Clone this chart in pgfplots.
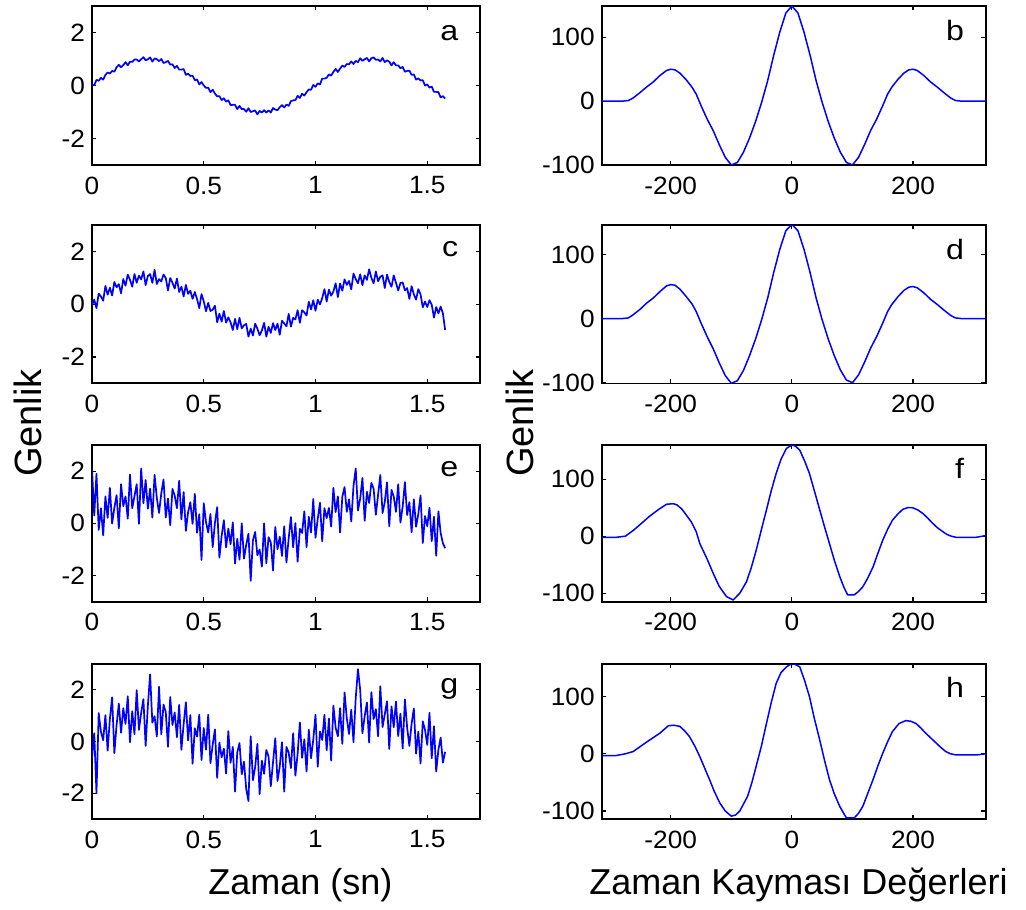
\documentclass[border=0pt]{standalone}
\usepackage{pgfplots}
\pgfplotsset{compat=1.18}
\usepackage{pgfplotstable}
\usepackage{fontspec}
\usepackage{graphicx}
\setmainfont{Liberation Sans}

\pgfplotstableread{
t a c e g
0.00 0.02 -0.04 2.10 -0.65
0.01 0.01 0.17 0.30 0.32
0.02 0.21 -0.15 1.90 -2.00
0.03 0.18 0.40 -0.25 1.10
0.04 0.29 0.29 0.58 0.38
0.05 0.22 0.13 -0.46 0.05
0.06 0.40 0.69 1.03 1.02
0.07 0.49 0.36 0.21 -0.35
0.08 0.45 0.62 1.36 0.87
0.09 0.55 0.33 -0.01 1.71
0.10 0.52 0.84 0.59 -0.45
0.11 0.69 0.64 1.08 0.64
0.12 0.78 0.76 -0.19 1.47
0.13 0.69 0.41 1.50 0.34
0.14 0.77 0.95 0.66 1.29
0.15 0.88 0.70 1.03 0.68
0.16 0.76 1.12 0.18 1.75
0.17 0.90 0.92 1.87 -0.03
0.18 0.89 0.66 0.58 1.17
0.19 0.98 1.14 1.04 0.28
0.20 0.98 0.81 1.50 1.99
0.21 0.91 1.08 -0.02 0.45
0.22 0.99 0.94 2.10 1.11
0.23 1.07 1.24 0.77 1.64
0.24 0.95 0.72 1.66 -0.17
0.25 0.99 1.07 0.56 1.39
0.26 1.06 1.14 1.33 2.60
0.27 0.90 0.81 0.22 0.73
0.28 1.02 1.30 1.86 0.98
0.29 0.99 0.76 0.97 0.19
0.30 0.92 0.95 0.40 2.12
0.31 1.00 0.86 1.15 0.28
0.32 0.85 1.12 1.68 1.43
0.33 0.88 0.99 0.22 1.14
0.34 0.93 0.52 0.95 -0.20
0.35 0.79 0.99 -0.07 1.72
0.36 0.80 0.81 1.32 0.64
0.37 0.66 0.59 1.06 1.12
0.38 0.74 0.97 0.58 0.17
0.39 0.60 0.46 1.63 1.42
0.40 0.60 0.66 0.15 -0.32
0.41 0.62 0.29 1.20 0.67
0.42 0.40 0.73 -0.29 1.52
0.43 0.45 0.39 0.43 0.04
0.44 0.36 0.51 0.81 1.02
0.45 0.37 0.20 -0.02 -0.86
0.46 0.20 0.46 1.13 0.51
0.47 0.23 0.19 -0.36 0.19
0.48 0.04 -0.15 0.35 1.04
0.49 0.13 0.38 -1.40 -0.72
0.50 0.00 0.11 0.77 0.52
0.51 -0.09 -0.27 0.05 -0.32
0.52 -0.08 0.05 -0.35 1.04
0.53 -0.25 -0.26 0.36 -0.84
0.54 -0.16 -0.21 -0.91 -0.12
0.55 -0.30 -0.06 0.02 0.47
0.56 -0.41 -0.69 0.62 -1.41
0.57 -0.40 -0.36 -1.31 -0.04
0.58 -0.55 -0.66 -0.48 -0.61
0.59 -0.48 -0.26 0.12 -0.28
0.60 -0.61 -0.70 -0.92 -1.24
0.61 -0.56 -0.50 -0.20 0.40
0.62 -0.74 -0.69 -0.80 -0.82
0.63 -0.73 -0.98 0.04 -0.21
0.64 -0.73 -0.56 -1.54 -1.94
0.65 -0.89 -0.95 -0.59 -0.42
0.66 -0.77 -0.52 -1.39 -0.06
0.67 -0.89 -0.92 0.00 -1.27
0.68 -0.89 -0.80 -1.35 -0.78
0.69 -0.99 -0.75 -0.82 -1.84
0.70 -0.86 -1.23 -0.40 -2.30
0.71 -1.00 -0.93 -2.20 0.20
0.72 -0.97 -1.19 -0.65 -1.50
0.73 -0.94 -0.74 -0.33 -0.99
0.74 -1.09 -0.93 -1.22 -0.09
0.75 -0.96 -1.18 -1.00 -2.04
0.76 -1.02 -1.00 -1.66 -0.74
0.77 -0.93 -0.71 0.00 -1.25
0.78 -1.02 -1.23 -1.53 -0.33
0.79 -0.94 -0.86 -0.53 -0.58
0.80 -1.02 -1.09 -0.73 -1.73
0.81 -0.85 -0.72 -1.81 -0.80
0.82 -0.91 -0.98 -0.14 0.13
0.83 -0.93 -0.74 -0.99 -1.53
0.84 -0.82 -1.16 -0.51 -0.97
0.85 -0.74 -0.63 -1.25 -0.03
0.86 -0.83 -0.73 -0.11 -1.94
0.87 -0.72 -0.84 -1.50 -0.21
0.88 -0.77 -0.37 -0.58 -0.43
0.89 -0.59 -0.85 0.24 -1.03
0.90 -0.56 -0.52 -0.92 0.32
0.91 -0.55 -0.58 0.01 -1.32
0.92 -0.39 -0.23 -1.47 -0.48
0.93 -0.47 -0.71 -0.21 0.74
0.94 -0.31 -0.23 -0.37 -0.63
0.95 -0.38 -0.31 0.46 0.08
0.96 -0.25 -0.43 -0.91 -1.16
0.97 -0.15 0.09 0.25 0.46
0.98 -0.16 -0.20 -0.35 -0.65
0.99 0.02 0.15 0.93 0.07
1.00 -0.05 -0.25 -0.55 1.04
1.01 0.08 0.17 0.17 -0.98
1.02 0.04 -0.01 0.79 0.39
1.03 0.26 0.23 -0.69 0.06
1.04 0.26 0.57 0.58 1.03
1.05 0.29 0.10 0.20 -0.34
1.06 0.42 0.55 0.59 0.89
1.07 0.37 0.32 -0.12 -0.74
1.08 0.51 0.48 1.36 1.39
1.09 0.63 0.79 0.43 0.54
1.10 0.51 0.27 1.03 0.20
1.11 0.64 0.78 -0.35 1.29
1.12 0.75 0.51 1.02 -0.09
1.13 0.70 0.94 1.39 1.90
1.14 0.81 0.73 0.44 0.90
1.15 0.80 0.88 0.92 0.29
1.16 0.91 0.56 0.07 1.23
1.17 0.81 1.16 1.43 -0.03
1.18 0.93 0.95 2.10 1.69
1.19 0.88 0.79 0.49 2.80
1.20 1.03 1.13 0.95 1.99
1.21 0.93 0.72 1.74 0.32
1.22 0.99 1.09 0.10 0.98
1.23 1.04 0.92 1.21 1.51
1.24 0.91 1.32 0.78 -0.04
1.25 1.03 1.00 1.55 1.91
1.26 1.06 0.79 1.33 0.87
1.27 0.97 1.24 0.33 1.25
1.28 0.98 0.87 1.09 0.20
1.29 0.91 1.04 1.85 2.14
1.30 1.04 1.09 0.40 0.56
1.31 0.88 0.61 0.82 1.06
1.32 0.95 1.12 1.57 1.56
1.33 0.90 0.84 -0.11 -0.29
1.34 0.76 0.66 1.28 1.36
1.35 0.88 1.09 1.03 0.55
1.36 0.76 0.81 0.44 1.55
1.37 0.76 0.52 1.50 0.21
1.38 0.65 0.80 0.03 1.08
1.39 0.70 0.82 0.64 -0.27
1.40 0.52 0.52 1.58 1.63
1.41 0.55 0.61 0.32 0.54
1.42 0.56 0.20 0.81 -0.17
1.43 0.40 0.68 -0.34 0.69
1.44 0.42 0.37 0.92 1.28
1.45 0.22 0.17 -0.13 -0.47
1.46 0.27 0.57 0.36 0.38
1.47 0.19 0.37 1.07 -0.85
1.48 0.20 -0.12 -0.75 0.78
1.49 0.00 0.10 0.28 0.45
1.50 0.04 -0.11 -0.11 -0.13
1.51 -0.08 0.15 0.60 1.11
1.52 -0.04 -0.02 -0.68 -0.65
1.53 -0.24 -0.51 0.25 0.59
1.54 -0.24 -0.11 -1.24 -1.16
1.55 -0.25 -0.35 0.46 -0.31
1.56 -0.45 -0.09 -0.37 0.15
1.57 -0.40 -0.35 -0.76 -0.82
1.58 -0.49 -0.98 -0.95 -0.40
}\leftdata

\newcommand{\tk}[1]{\scalebox{1.05}[1]{#1}}

\pgfplotsset{
  panel/.style={
    scale only axis, anchor=north west,
    axis line style={line width=0.8pt},
    tick align=inside, major tick length=2.2pt,
    tick style={line width=0.6pt, black},
    ticklabel style={font=\fontsize{12.5}{14}\selectfont},
    xticklabel style={yshift=-2.3pt},
    yticklabel style={xshift=0pt},
  },
  leftp/.style={panel, width=194pt, xmin=0, xmax=1.736, ymin=-3, ymax=3,
    xtick={0,0.5,1,1.5}, xticklabels={\tk{0},\tk{0.5},\tk{1},\tk{1.5}},
    ytick={-2,0,2}, yticklabels={\tk{-2},\tk{0},\tk{2}}},
  rightp/.style={panel, width=192pt, xmin=-314, xmax=320,
    xtick={-200,0,200}, xticklabels={\tk{-200},\tk{0},\tk{200}},
    ytick={-100,0,100}, yticklabels={\tk{-100},\tk{0},\tk{100}}},
  sig/.style={color={rgb,255:red,0;green,0;blue,255}, line width=0.75pt, line join=round, no marks},
  nsig/.style={color={rgb,255:red,0;green,0;blue,255}, line width=0.85pt, line join=round, no marks},
}
\tikzset{letter/.style={anchor=base east, font=\fontsize{14}{16}\selectfont}}

\begin{document}
\begin{tikzpicture}
\useasboundingbox (0,0) rectangle (513pt,-454.5pt);

% ---------- row 1 ----------
\begin{axis}[leftp, at={(46pt,-3pt)}, height=79.5pt]
\addplot[nsig] table[x=t,y=a]{\leftdata};
\node[letter] at (rel axis cs:0.962,0.785) {\scalebox{1.15}[1]{a}};
\end{axis}
\begin{axis}[rightp, at={(300.85pt,-3pt)}, height=79.5pt, ymin=-100, ymax=149]
\addplot[sig] coordinates {(-316,0) (-280,0) (-270,1) (-262,5) (-250,14) (-240,22) (-229,30) (-218,40) (-207,48) (-200,50) (-193,49) (-185,44) (-175,34) (-165,22) (-158,11) (-150,-7) (-140,-28) (-130,-46) (-120,-68) (-110,-88) (-100,-100) (-90,-96) (-80,-80) (-70,-58) (-60,-32) (-50,-2) (-40,32) (-30,72) (-20,108) (-10,138) (0,149) (10,138) (20,108) (30,72) (40,32) (50,-2) (60,-32) (70,-58) (80,-80) (90,-96) (100,-100) (110,-88) (120,-68) (130,-46) (140,-28) (150,-7) (158,11) (165,22) (175,34) (185,44) (193,49) (200,50) (207,48) (218,40) (229,30) (240,22) (250,14) (262,5) (270,1) (280,0) (320,0)};
\node[letter] at (rel axis cs:0.962,0.785) {\scalebox{1.15}[1]{b}};
\end{axis}

% ---------- row 2 ----------
\begin{axis}[leftp, at={(46pt,-112.5pt)}, height=79.15pt]
\addplot[nsig] table[x=t,y=c]{\leftdata};
\node[letter] at (rel axis cs:0.962,0.8) {\scalebox{1.15}[1]{c}};
\end{axis}
\begin{axis}[rightp, at={(300.85pt,-112.5pt)}, height=79.15pt, ymin=-101, ymax=146]
\addplot[sig] coordinates {(-316,0) (-280,0) (-270,1) (-262,6) (-250,15) (-240,24) (-229,32) (-218,42) (-207,51) (-200,53) (-193,52) (-185,46) (-175,35) (-165,23) (-158,11) (-150,-7) (-140,-28) (-130,-47) (-120,-69) (-110,-89) (-100,-101) (-90,-97) (-80,-81) (-70,-58) (-60,-32) (-50,-2) (-40,32) (-30,72) (-20,108) (-10,137) (0,147) (10,137) (20,108) (30,72) (40,32) (50,-2) (60,-32) (70,-58) (80,-80) (90,-96) (100,-100) (110,-88) (120,-68) (130,-46) (140,-28) (150,-7) (158,11) (165,22) (175,34) (185,44) (193,49) (200,50) (207,48) (218,40) (229,30) (240,22) (250,14) (262,5) (270,1) (280,0) (320,0)};
\node[letter] at (rel axis cs:0.962,0.785) {\scalebox{1.15}[1]{d}};
\end{axis}

% ---------- row 3 ----------
\begin{axis}[leftp, at={(46pt,-222.5pt)}, height=78.35pt]
\addplot[nsig] table[x=t,y=e]{\leftdata};
\node[letter] at (rel axis cs:0.962,0.8) {\scalebox{1.15}[1]{e}};
\end{axis}
\begin{axis}[rightp, at={(300.85pt,-222.5pt)}, height=78.35pt, ymin=-115, ymax=160]
\addplot[sig] coordinates {(-316,-2) (-290,-2) (-275,0) (-262,10) (-250,21) (-235,35) (-220,47) (-207,56) (-196,57) (-190,55) (-182,48) (-175,38) (-166,25) (-158,8) (-152,-13) (-140,-40) (-130,-65) (-120,-88) (-108,-106) (-97,-112) (-86,-100) (-75,-80) (-67,-55) (-59,-25) (-50,13) (-42,46) (-34,80) (-26,110) (-18,135) (-9,154) (0,160) (6,158) (13,151) (21,132) (29,110) (37,80) (46,46) (54,16) (62,-13) (70,-42) (79,-71) (86,-90) (92,-103) (103,-103) (110,-97) (117,-89) (125,-74) (134,-54) (142,-30) (150,-7) (158,12) (166,28) (175,39) (183,47) (191,50) (199,50) (208,46) (216,40) (224,32) (232,23) (240,15) (249,8) (256,3) (263,0) (271,-2) (304,-2) (320,1)};
\node[letter] at (rel axis cs:0.962,0.785) {\scalebox{1.15}[1]{f}};
\end{axis}

% ---------- row 4 ----------
\begin{axis}[leftp, at={(46pt,-332pt)}, height=77.5pt]
\addplot[nsig] table[x=t,y=g]{\leftdata};
\node[letter] at (rel axis cs:0.962,0.81) {\scalebox{1.15}[1]{g}};
\end{axis}
\begin{axis}[rightp, at={(300.85pt,-332pt)}, height=77.5pt, ymin=-114, ymax=157]
\addplot[sig] coordinates {(-316,-3) (-290,-3) (-275,0) (-262,4) (-250,13) (-235,24) (-218,36) (-204,49) (-195,50) (-185,48) (-177,40) (-169,30) (-160,13) (-152,-5) (-144,-25) (-136,-45) (-128,-66) (-119,-86) (-110,-100) (-100,-109) (-93,-107) (-86,-100) (-80,-88) (-73,-74) (-66,-50) (-59,-22) (-50,15) (-42,53) (-34,90) (-26,123) (-18,142) (-9,152) (0,158) (6,156) (13,152) (21,128) (29,100) (37,62) (46,24) (54,-12) (62,-45) (70,-70) (79,-92) (86,-105) (90,-112) (103,-112) (110,-104) (117,-92) (125,-70) (134,-45) (142,-21) (150,1) (158,21) (166,39) (177,53) (188,58) (196,57) (205,53) (213,45) (221,36) (230,27) (238,19) (246,11) (254,4) (262,0) (271,-2) (304,-2) (320,0)};
\node[letter] at (rel axis cs:0.962,0.785) {\scalebox{1.15}[1]{h}};
\end{axis}

% ---------- axis titles ----------
\node[rotate=90, font=\fontsize{19}{21}\selectfont] at (14pt,-211.5pt) {Genlik};
\node[rotate=90, font=\fontsize{19}{21}\selectfont] at (260pt,-211.5pt) {Genlik};
\node[anchor=base, font=\fontsize{18}{20}\selectfont] at (150.25pt,-447pt) {Zaman (sn)};
\node[anchor=base, font=\fontsize{18}{20}\selectfont] at (399.25pt,-447pt) {Zaman Kayması Değerleri};
\end{tikzpicture}
\end{document}
